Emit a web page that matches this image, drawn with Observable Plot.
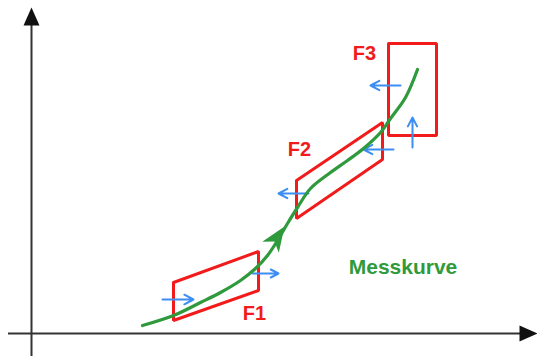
<!DOCTYPE html>
<html>
<head>
<meta charset="utf-8">
<script src="https://cdn.jsdelivr.net/npm/d3@7"></script>
<script src="https://cdn.jsdelivr.net/npm/@observablehq/plot@0.6"></script>
<style>
  html, body { margin: 0; padding: 0; background: #fff; }
  #chart svg { display: block; }
</style>
</head>
<body>
<div id="chart"></div>
<script>
// Measurement curve (Messkurve) sample points
const curveX = [111, 142, 169, 189, 209, 224, 236, 246, 256, 266, 279, 299, 316, 332, 349, 359, 374, 386];
const curveY = [8, 18, 31, 41, 53, 65, 78, 93, 110, 126, 145, 161, 173, 185, 201, 215, 236, 264];

// Evaluation windows
const windowNames = ["F1", "F2", "F3"];
const windowX = [[142, 227, 227, 142], [265, 351, 351, 265], [357, 405, 405, 357]];
const windowY = [[51, 82, 43, 13], [153, 211, 174, 115], [290, 290, 198, 198]];
const labelX = [223, 268, 333];
const labelY = [20, 183.5, 279.5];

// Entry/exit arrows
const arrowX1 = [131, 221, 277, 362, 369, 381];
const arrowY1 = [34, 60, 140, 184, 248, 186];
const arrowX2 = [162, 247, 247, 332, 339, 381];
const arrowY2 = [34, 60, 140, 184, 248, 216];

// Axes
const axisMin = -23;
const xAxisEnd = 494;
const yAxisEnd = 309;
const xAxisTip = 506;
const yAxisTip = 326;

// Curve direction marker (tip position, angle)
const curveArrowX = [253];
const curveArrowY = [107];
const curveArrowAngle = [34];

const curveLabel = "Messkurve";
const curveLabelX = 371.5;
const curveLabelY = 66;

const curveData = curveX.map((x, i) => ({x, y: curveY[i]}));
const windowData = windowNames.flatMap((f, k) => {
  const pts = windowX[k].map((x, i) => ({f, x, y: windowY[k][i]}));
  return [...pts, pts[0]];
});
const labelData = windowNames.map((f, k) => ({f, x: labelX[k], y: labelY[k]}));
const arrowData = arrowX1.map((x1, i) => ({x1, y1: arrowY1[i], x2: arrowX2[i], y2: arrowY2[i]}));
const axisHeads = [
  {x: xAxisTip, y: 0, rot: 90},
  {x: 0, y: yAxisTip, rot: 0}
];
const curveHead = curveArrowX.map((x, i) => ({x, y: curveArrowY[i], rot: curveArrowAngle[i]}));

// Arrowhead symbols with the tip at the anchor point, pointing up
const axisHeadSymbol = {
  draw(ctx) {
    ctx.moveTo(0, 0);
    ctx.lineTo(-8, 18);
    ctx.lineTo(8, 18);
    ctx.closePath();
  }
};
const stealthSymbol = {
  draw(ctx) {
    ctx.moveTo(0, 0);
    ctx.lineTo(-10, 25);
    ctx.lineTo(0, 18);
    ctx.lineTo(10, 25);
    ctx.closePath();
  }
};

const red = "#f21b1b";
const green = "#2f9a3c";
const blue = "#3d8ef2";
const axisColor = "#333";

const chart = Plot.plot({
  width: 537,
  height: 356,
  margin: 0,
  x: {domain: [-31, 506], axis: null},
  y: {domain: [-23, 333], axis: null},
  style: {background: "#fff", overflow: "visible"},
  marks: [
    Plot.ruleY([0], {x1: axisMin, x2: xAxisEnd, stroke: axisColor, strokeWidth: 2}),
    Plot.ruleX([0], {y1: axisMin, y2: yAxisEnd, stroke: axisColor, strokeWidth: 2}),
    Plot.dot(axisHeads, {x: "x", y: "y", symbol: axisHeadSymbol, r: 6, fill: "#111", stroke: "none", rotate: "rot"}),
    Plot.line(windowData, {x: "x", y: "y", z: "f", stroke: red, strokeWidth: 3, strokeLinejoin: "miter"}),
    Plot.arrow(arrowData, {x1: "x1", y1: "y1", x2: "x2", y2: "y2", stroke: blue, strokeWidth: 2, headLength: 11, headAngle: 55}),
    Plot.line(curveData, {x: "x", y: "y", curve: "catmull-rom", stroke: green, strokeWidth: 3.2}),
    Plot.dot(curveHead, {x: "x", y: "y", symbol: stealthSymbol, r: 6, fill: green, stroke: "none", rotate: "rot"}),
    Plot.text(labelData, {x: "x", y: "y", text: "f", fill: red, fontSize: 20, fontWeight: "bold", fontFamily: "Liberation Sans, Arial, sans-serif", textAnchor: "middle", lineAnchor: "middle"}),
    Plot.text([curveLabel], {x: curveLabelX, y: curveLabelY, text: d => d, fill: green, fontSize: 21, fontWeight: "bold", fontFamily: "Liberation Sans, Arial, sans-serif", textAnchor: "middle", lineAnchor: "middle"})
  ]
});
document.getElementById("chart").appendChild(chart);
</script>
</body>
</html>
